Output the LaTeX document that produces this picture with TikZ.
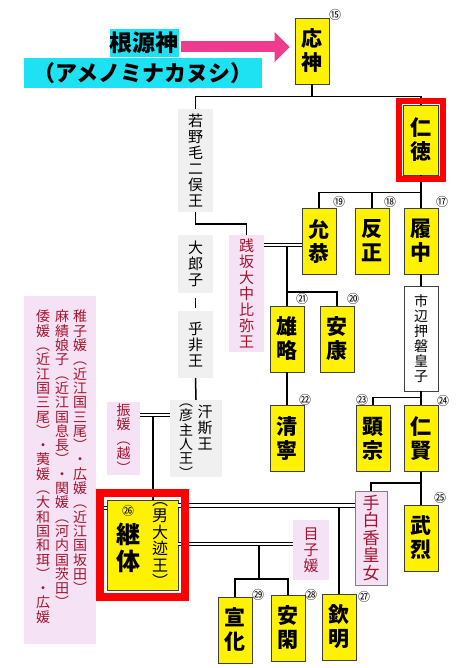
\documentclass[tikz,border=0pt]{standalone}
\usepackage{fontspec}
\setmainfont{Noto Sans CJK JP}
\usetikzlibrary{arrows.meta}

\definecolor{graybg}{RGB}{240,240,240}
\definecolor{pinkbg}{RGB}{245,226,245}
\definecolor{dred}{RGB}{165,20,45}
\definecolor{cyanbg}{RGB}{30,226,242}
\definecolor{arrowpink}{RGB}{240,60,140}

\begin{document}
\begin{tikzpicture}[x=1pt,y=-1pt,
    kin/.style={line width=1.5pt},
    marry/.style={double, double distance=2.6pt, line width=1pt},
    tenno/.style={draw=black!75, line width=0.8pt, fill=yellow,
      minimum width=34pt, minimum height=66pt, inner sep=0pt, align=center,
      font=\fontsize{21}{24}\selectfont\bfseries},
    outext/.style={inner sep=0pt, align=center, font=\fontsize{15}{16}\selectfont},
    ou/.style={outext, fill=graybg, minimum width=35pt},
    hime/.style={outext, fill=pinkbg, text=dred, minimum width=35pt},
    num/.style={inner sep=0pt, font=\fontsize{12}{12}\selectfont},
    cyanbox/.style={fill=cyanbg, inner sep=0pt},
    redframe/.style={draw=red, line width=7pt}]

  \useasboundingbox (0,0) rectangle (472,668);

  % 根源神
  \node[cyanbox, minimum height=28pt, font=\fontsize{23}{26}\selectfont\bfseries] (kongen) at (144,43) {根源神};
  \node[cyanbox, minimum width=238pt, minimum height=30pt, font=\fontsize{22}{24}\selectfont\bfseries] (ameno) at (143,73) {（アメノミナカヌシ）};

  % 天皇
  \node[tenno] (ojin) at (312,51) {応\\神};
  \node[tenno, minimum width=35pt, minimum height=70pt] (nintoku) at (421,140) {仁\\徳};
  \node[tenno] (ingyo) at (319,241) {允\\恭};
  \node[tenno] (hanzei) at (372,241) {反\\正};
  \node[tenno] (richu) at (421,241) {履\\中};
  \node[tenno] (yuryaku) at (287,339) {雄\\略};
  \node[tenno] (anko) at (337,339) {安\\康};
  \node[tenno] (seinei) at (287,438.5) {清\\寧};
  \node[tenno] (kenzo) at (373,438.5) {顕\\宗};
  \node[tenno] (ninken) at (421,438.5) {仁\\賢};
  \node[tenno] (buretsu) at (421,538) {武\\烈};
  \node[tenno] (senka) at (235,630) {宣\\化};
  \node[tenno] (ankan) at (288,628) {安\\閑};
  \node[tenno] (kinmei) at (339,627) {欽\\明};
  \node[tenno, minimum width=71pt, minimum height=90pt] (keitai) at (142.5,545) {};
  \node[num] (n26) at (128,511) {㉖};
  \node[inner sep=0pt, align=center, font=\fontsize{24}{27}\selectfont\bfseries] (keitaimei) at (128,548) {継\\体};
  \node[inner sep=0pt, align=center, font=\fontsize{16}{16.5}\selectfont] (odoto) at (160,545) {︵\\男\\大\\迹\\王\\︶};

  % 王・皇子
  \node[ou, minimum height=103pt] (wakanuke) at (195.5,160.5) {若\\野\\毛\\二\\俣\\王};
  \node[ou, minimum height=58pt] (oiratsuko) at (195.5,264) {大\\郎\\子};
  \node[ou, minimum height=67pt] (ohi) at (195.5,344.5) {乎\\非\\王};
  \node[ou, minimum width=52pt, minimum height=77pt] (hikoushi) at (196,438.5) {};
  \node[outext] (ushi) at (205,428) {汗\\斯\\王};
  \node[outext, font=\fontsize{14}{14.3}\selectfont] (hikonushi) at (186,441) {︵\\彦\\主\\人\\王\\︶};
  \node[draw=black!75, line width=0.8pt, fill=white, minimum width=34pt, minimum height=105pt,
    inner sep=0pt, align=center, font=\fontsize{14}{15}\selectfont] (ichinobe) at (421,338.5) {市\\辺\\押\\磐\\皇\\子};

  % 后妃
  \node[hime, minimum height=117pt] (hosaka) at (246.5,293.5) {践\\坂\\大\\中\\比\\弥\\王};
  \node[hime, minimum width=33pt, minimum height=73pt, font=\fontsize{14}{14.5}\selectfont] (furihime) at (123.5,438.5) {振\\媛\\︵\\越\\︶};
  \node[hime, draw=gray, minimum width=32pt, minimum height=94pt, font=\fontsize{17}{17.5}\selectfont] (tashiraka) at (371,538) {手\\白\\香\\皇\\女};
  \node[hime, minimum width=36pt, minimum height=60pt] (mekohime) at (311,550) {目\\子\\媛};
  \node[hime, minimum width=72pt, minimum height=348pt] (wives) at (60,470) {};
  \node[hime, fill=none, anchor=north, font=\fontsize{14}{14.3}\selectfont] (wife1) at (80,310)
    {稚\\子\\媛\\︵\\近\\江\\国\\三\\尾\\︶\\・\\広\\媛\\︵\\近\\江\\国\\坂\\田\\︶};
  \node[hime, fill=none, anchor=north, font=\fontsize{14}{14.3}\selectfont] (wife2) at (62,310)
    {麻\\績\\娘\\子\\︵\\近\\江\\国\\息\\長\\︶\\・\\関\\媛\\︵\\河\\内\\国\\茨\\田\\︶};
  \node[hime, fill=none, anchor=north, font=\fontsize{14}{14.3}\selectfont] (wife3) at (43,310)
    {倭\\媛\\︵\\近\\江\\国\\三\\尾\\︶\\・\\荑\\媛\\︵\\大\\和\\国\\和\\珥\\︶\\・\\広\\媛};

  % 矢印
  \draw[arrowpink, line width=11pt, -{Triangle[length=15pt,width=29pt]}, shorten <=2pt, shorten >=5pt]
    ([yshift=-4pt]kongen.east) -- ([yshift=-4pt]kongen.east -| ojin.west);

  % 親子
  \draw[kin] (ojin.south) -- ++(0,12) coordinate (j1);
  \draw[kin] (wakanuke.north) |- (j1) -| (nintoku.north);
  \draw[kin] (nintoku.south) -- ++(0,17) coordinate (j2) -- (richu.north);
  \draw[kin] (ingyo.north) |- (j2);
  \draw[kin] (hanzei.north) -- (hanzei.north |- j2);
  \draw[kin] (wakanuke.south) -- ++(0,12) coordinate (j3) -| (hosaka.north);
  \draw[kin, shorten <=5pt, shorten >=3pt] (oiratsuko.south) -- (ohi.north);
  \draw[kin] (ohi.south) -- (hikoushi.north);
  \draw[kin] (richu.south) -- (ichinobe.north);
  \draw[kin] (ichinobe.south) -- ++(0,6) coordinate (j5) -- (ninken.north);
  \draw[kin] (kenzo.north) |- (j5);
  \draw[kin] (ninken.south) -- ++(0,11) coordinate (j6) -- (buretsu.north);
  \draw[kin] (tashiraka.north) |- (j6);
  \draw[kin] (yuryaku.south) -- (seinei.north);
  \coordinate (j4) at (287,292);
  \draw[kin] (anko.north) |- (j4);
  \coordinate (j7) at (259,579);
  \draw[kin] (senka.north) |- (j7) -| (ankan.north);

  % 婚姻
  \coordinate (m4) at ([yshift=-4pt]ingyo.west);
  \draw[kin] (yuryaku.north) -- (yuryaku.north |- m4);
  \draw[marry] (m4) -- (m4 -| hosaka.east);
  \coordinate (m1) at ([yshift=23.5pt]furihime.east);
  \draw[kin] (keitai.north -| 153,0) -- (153,415);
  \draw[marry] (m1) -- (m1 -| hikoushi.west);
  \coordinate (m2) at ([yshift=39.5pt]keitai.east);
  \draw[kin] (kinmei.north) -- (kinmei.north |- m2);
  \draw[marry] (m2) -- (m2 -| tashiraka.west);
  \coordinate (m3) at ([yshift=1pt]keitai.east);
  \draw[kin] (j7) -- (j7 |- m3);
  \draw[marry] (m3) -- (m3 -| mekohime.west);
  \coordinate (m5) at ([yshift=37pt]keitai.west);
  \draw[marry] (m5) -- (m5 -| wives.east);

  % 代数
  \node[num] (n15) at (335,15) {⑮};
  \node[num] (n19) at (339,202) {⑲};
  \node[num] (n18) at (390,202) {⑱};
  \node[num] (n17) at (442,202) {⑰};
  \node[num] (n21) at (302,299) {㉑};
  \node[num] (n20) at (353,299) {⑳};
  \node[num] (n22) at (305,400) {㉒};
  \node[num] (n23) at (362,400) {㉓};
  \node[num] (n24) at (443,401) {㉔};
  \node[num] (n25) at (440,498) {㉕};
  \node[num] (n29) at (258,595) {㉙};
  \node[num] (n28) at (311,595) {㉘};
  \node[num] (n27) at (364,597) {㉗};

  % 赤枠
  \draw[redframe, line width=6pt] ([shift={(-4,-4)}]nintoku.north west) rectangle ([shift={(4,4)}]nintoku.south east);
  \draw[redframe, line width=7.5pt] ([shift={(-6.5,-6.5)}]keitai.north west) rectangle ([shift={(6.5,6.5)}]keitai.south east);

\end{tikzpicture}
\end{document}
